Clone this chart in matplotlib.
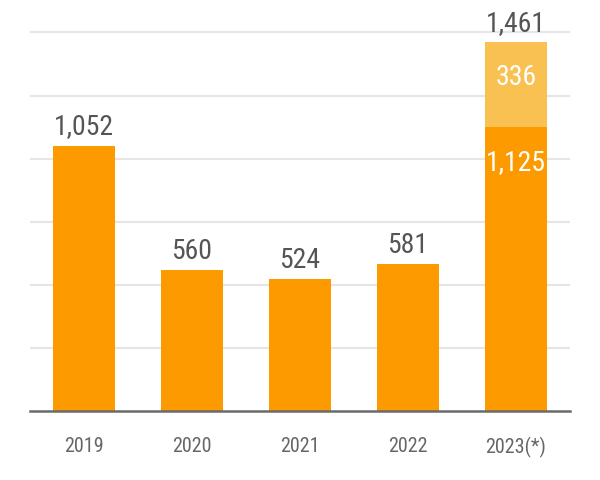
import numpy as np
import matplotlib
matplotlib.use("Agg")
import matplotlib.pyplot as plt
from matplotlib import font_manager

# data
years = ["2019", "2020", "2021", "2022", "2023(*)"]
base = [1052, 560, 524, 581, 1125]
extra = [0, 0, 0, 0, 336]
totals = [1052, 560, 524, 581, 1461]


# look for a condensed face among the installed fonts
def narrow_font():
    prefs = ["Roboto Condensed", "Liberation Sans Narrow", "Open Sans Condensed",
             "Noto Sans", "DejaVu Sans", "Roboto", "Open Sans", "Lato", "Inter"]
    found = []
    for f in font_manager.fontManager.ttflist:
        st = f.stretch
        narrow = ("Condensed" in f.name or "Narrow" in f.name
                  or (isinstance(st, str) and "condensed" in st)
                  or (isinstance(st, (int, float)) and st < 500))
        if narrow and f.style == "normal":
            w = f.weight if isinstance(f.weight, (int, float)) else 400
            rank = prefs.index(f.name) if f.name in prefs else len(prefs)
            found.append((rank, abs(w - 300), f.fname))
    if found:
        found.sort()
        return found[0][2]
    return None


fpath = narrow_font()
if fpath:
    font_manager.fontManager.addfont(fpath)
    fam = font_manager.FontProperties(fname=fpath).get_name()
else:
    fam = "DejaVu Sans"
plt.rcParams["font.family"] = [fam, "DejaVu Sans"]

orange = "#fd9a00"
light = "#f9c152"

fig = plt.figure(figsize=(6, 4.8), dpi=100)
ax = fig.add_axes([0.05, 0.1437, 0.90, 0.8413])

x = np.arange(len(years))
ax.bar(x, base, width=0.574, color=orange, zorder=2)
ax.bar(x, extra, bottom=base, width=0.574, color=light, zorder=2)

ax.set_xlim(-0.5, 4.5)
ax.set_ylim(0, 1600)
ax.set_yticks(np.arange(250, 1501, 250))
ax.yaxis.grid(True, color="#e6e6e6", lw=1.5, zorder=0)
ax.tick_params(axis="y", left=False, labelleft=False)
for s in ["top", "right", "left"]:
    ax.spines[s].set_visible(False)
ax.spines["bottom"].set_color("#6a6a6a")
ax.spines["bottom"].set_linewidth(1.8)
ax.spines["bottom"].set_zorder(3)

narrow = fpath is not None
ax.set_xticks(x)
ax.set_xticklabels(years, fontsize=14.5 if narrow else 12, color="#666666")
ax.tick_params(axis="x", length=0, pad=19)

vs = 20 if narrow else 16
# totals above bars
for xi, t in zip(x, totals):
    ax.annotate(f"{t:,}", (xi, t), xytext=(0, 8), textcoords="offset points",
                ha="center", va="baseline", fontsize=vs, color="#555555")

# labels inside the 2023 stacked bar
i = 4
ax.annotate(f"{base[i]:,}", (x[i], base[i]), xytext=(0, -31), textcoords="offset points",
            ha="center", va="baseline", fontsize=vs, color="white", zorder=4)
ax.annotate(f"{extra[i]:,}", (x[i], totals[i]), xytext=(0, -31), textcoords="offset points",
            ha="center", va="baseline", fontsize=vs, color="white", zorder=4)

fig.savefig("out.png", dpi=100)
